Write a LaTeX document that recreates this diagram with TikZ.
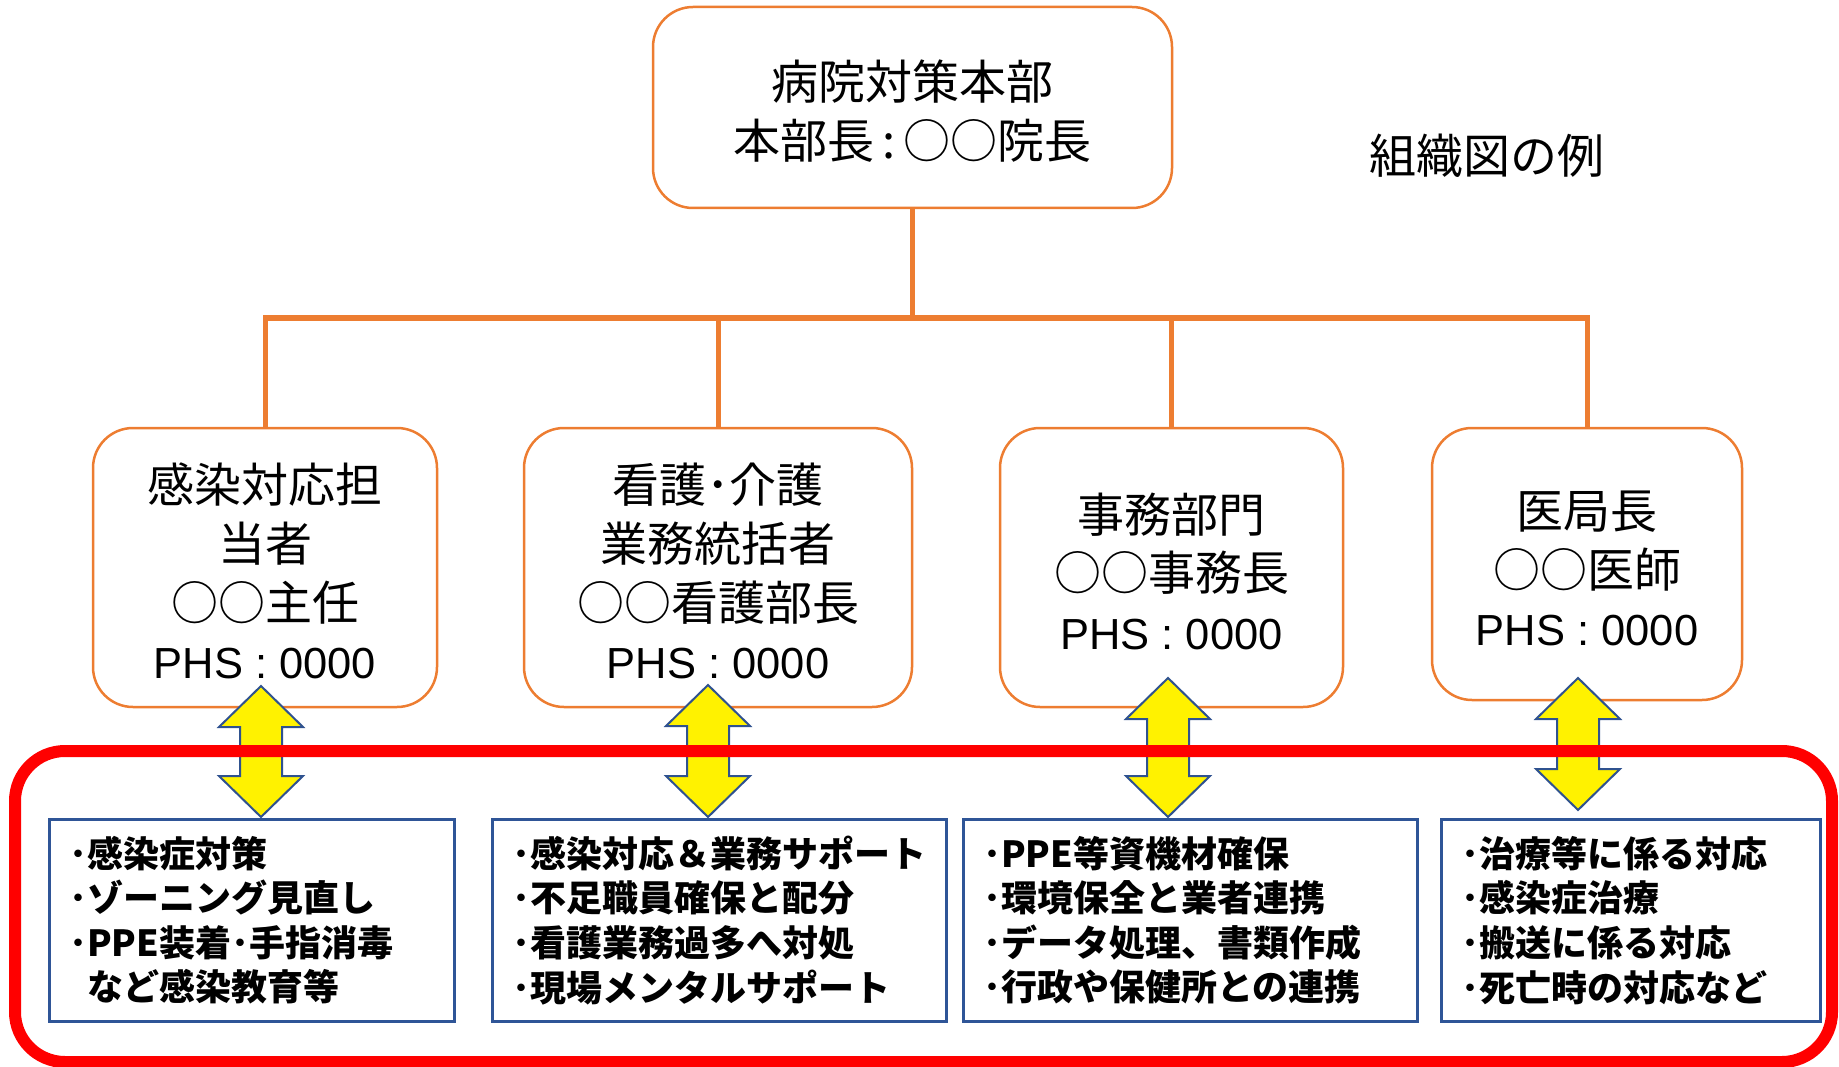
\documentclass[tikz,border=0pt]{standalone}
\usepackage{fontspec}
\setmainfont{Noto Sans CJK JP}
\newfontfamily\latf{Liberation Sans}
\definecolor{orng}{HTML}{ED7D31}
\definecolor{bluebd}{HTML}{2F5597}
\definecolor{arrowbd}{HTML}{2F528F}
\newcommand\yarrowshape[3]{\draw[yarr] (#1,#2) -- ++(42,41) -- ++(-21,0) -- (#1+21,#3-41) -- ++(21,0) -- (#1,#3) -- ++(-42,-41) -- ++(21,0) -- (#1-21,#2+41) -- ++(-21,0) -- cycle;}
\newcommand\phs{{\latf\fontsize{43.5}{58.6}\selectfont PHS : 0000}}
\newcommand\tallstrut{\rule{0pt}{47pt}}
\tikzset{
 obox/.style={draw=orng, line width=2.5pt, rounded corners=40pt, fill=white, align=center, inner sep=0pt, font=\fontsize{47}{58.6}\selectfont},
 bbox/.style={draw=bluebd, line width=2.5pt, fill=white, align=left, inner xsep=20pt, inner ysep=0pt, minimum height=202pt, font=\bfseries\fontsize{36}{44.6}\selectfont, anchor=north west},
 conn/.style={draw=orng, line width=5pt},
 yarr/.style={fill=yellow, draw=arrowbd, line width=2pt, line join=miter},
 redframe/.style={draw=red, line width=12pt, rounded corners=50pt, minimum width=1817pt, minimum height=311pt, inner sep=0pt}
}
\begin{document}
\begin{tikzpicture}[x=1pt,y=-1pt]
\useasboundingbox (0,0) rectangle (1839,1067);
% top box
\node[obox, minimum width=519pt, minimum height=201pt] (top) at (912.5,107.5) {\tallstrut 病院対策本部\\本部長\,:\,○○院長};
\node[font=\fontsize{47}{58.6}\selectfont] (ttl) at (1487,156) {組織図の例};
% level 2
\node[obox, minimum width=344pt, minimum height=279pt] (b1) at (265,567.5) {\tallstrut 感染対応担\\当者\\○○主任\\\phs};
\node[obox, minimum width=388pt, minimum height=279pt] (b2) at (718,567.5) {\tallstrut 看護･介護\\業務統括者\\○○看護部長\\\phs};
\node[obox, minimum width=343pt, minimum height=279pt] (b3) at (1171.5,567.5) {\tallstrut 事務部門\\○○事務長\\\phs};
\node[obox, minimum width=310pt, minimum height=272pt] (b4) at (1587,564) {\tallstrut 医局長\\○○医師\\\phs};
% connectors
\coordinate (hj) at (912.5,318);
\draw[conn] (top.south) -- (hj);
\draw[conn] (b1.north) -- (b1.north |- hj) -- (b4.north |- hj) -- (b4.north);
\draw[conn] (b2.north) -- (b2.north |- hj);
\draw[conn] (b3.north) -- (b3.north |- hj);
% arrows
\yarrowshape{261}{686}{817}
\yarrowshape{708}{685}{817}
\yarrowshape{1168}{678}{817}
\yarrowshape{1578}{678}{810}
% red frame
\node[redframe] (grp) at (923.5,906.5) {};
% blue boxes
\node[bbox, text width=365pt] (c1) at (48,818) {･感染症対策\\･ゾーニング見直し\\･PPE装着･手指消毒\\\phantom{･}など感染教育等};
\node[bbox, text width=414pt] (c2) at (491,818) {･感染対応＆業務サポート\\･不足職員確保と配分\\･看護業務過多へ対処\\･現場メンタルサポート};
\node[bbox, text width=414pt] (c3) at (962,818) {･PPE等資機材確保\\･環境保全と業者連携\\･データ処理、書類作成\\･行政や保健所との連携};
\node[bbox, text width=339pt] (c4) at (1440,818) {･治療等に係る対応\\･感染症治療\\･搬送に係る対応\\･死亡時の対応など};
\end{tikzpicture}
\end{document}
